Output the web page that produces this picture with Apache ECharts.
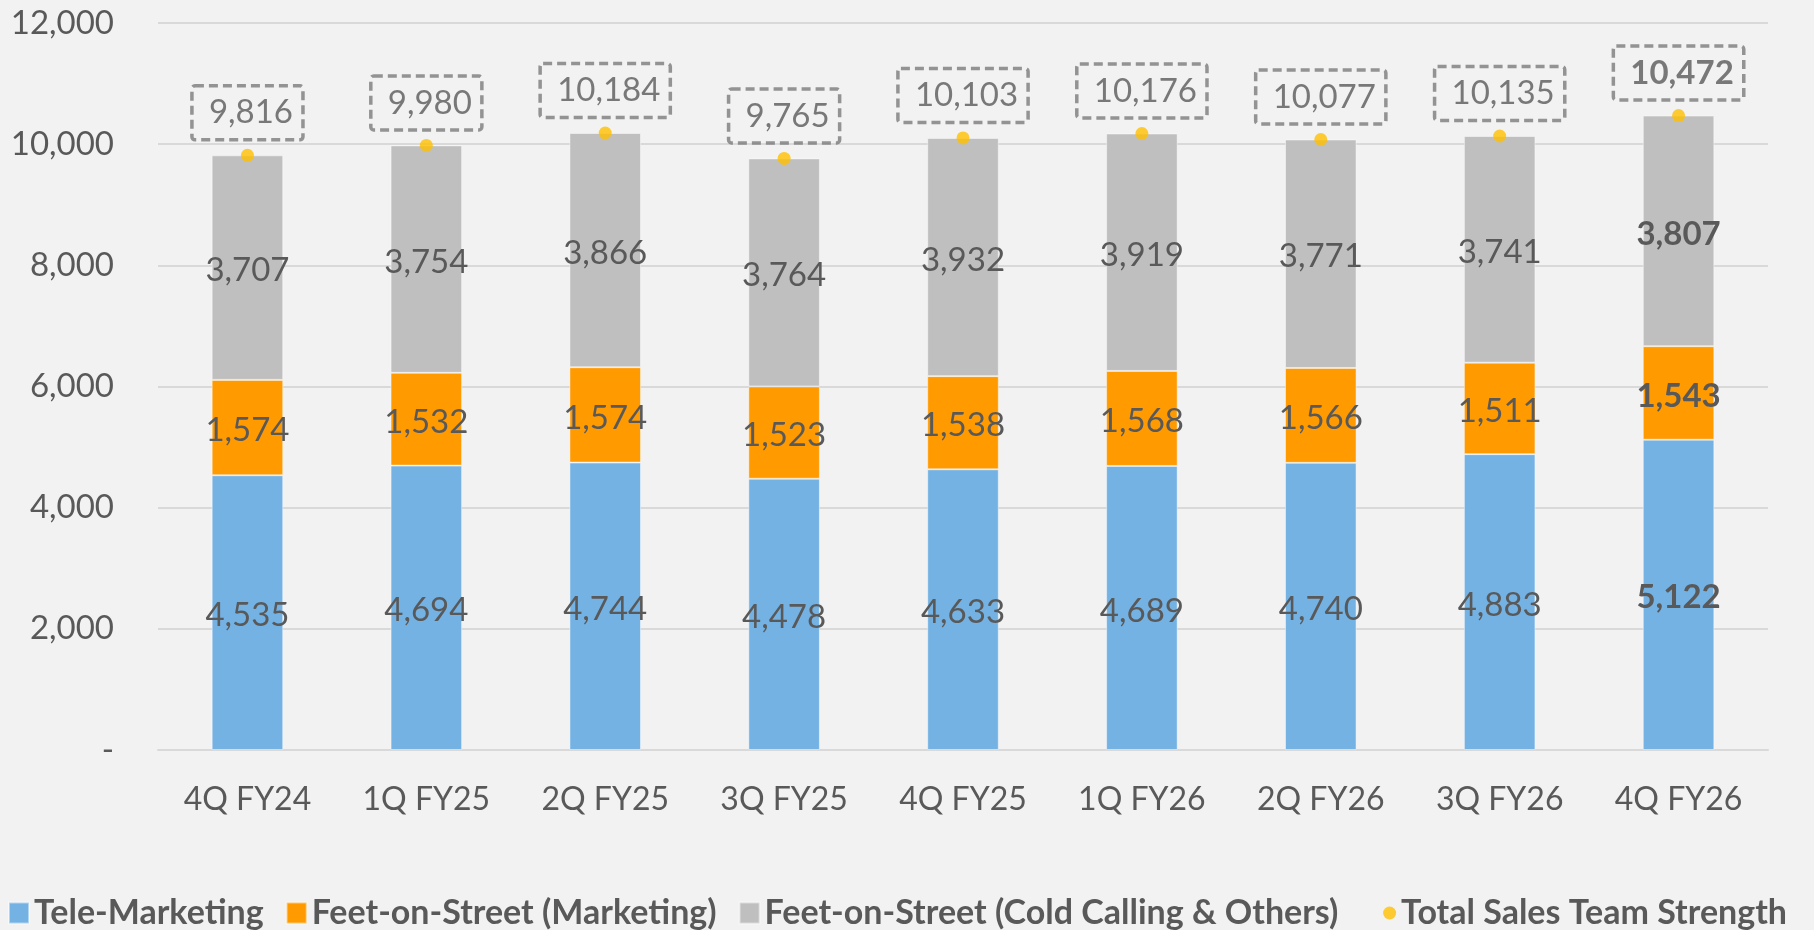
<!DOCTYPE html>
<html>
<head>
<meta charset="utf-8">
<title>Sales Team Strength</title>
<script src="https://cdn.jsdelivr.net/npm/echarts@6/dist/echarts.min.js"></script>
<style>
  html, body { margin: 0; padding: 0; background: #F2F2F2; }
  #chart { width: 1814px; height: 930px; }
</style>
</head>
<body>
<div id="chart"></div>
<script>
// Quarterly headcount by sales channel
const categories = ['4Q FY24', '1Q FY25', '2Q FY25', '3Q FY25', '4Q FY25', '1Q FY26', '2Q FY26', '3Q FY26', '4Q FY26'];
const teleMarketing = [4535, 4694, 4744, 4478, 4633, 4689, 4740, 4883, 5122];
const fosMarketing = [1574, 1532, 1574, 1523, 1538, 1568, 1566, 1511, 1543];
const fosColdCalling = [3707, 3754, 3866, 3764, 3932, 3919, 3771, 3741, 3807];
const totalStrength = [9816, 9980, 10184, 9765, 10103, 10176, 10077, 10135, 10472];

const seriesNames = [
  'Tele-Marketing',
  'Feet-on-Street (Marketing)',
  'Feet-on-Street (Cold Calling & Others)',
  'Total Sales Team Strength'
];

const FONT = 'Lato';
const TEXT = '#595959';
const fmt = v => v === 0 ? '-' : v.toLocaleString('en-US');
const last = categories.length - 1;

// the latest quarter is highlighted with bold labels
const withBoldLast = arr => arr.map((v, i) =>
  i === last ? { value: v, label: { fontWeight: 'bold' } } : v);

const barLabel = {
  show: true,
  position: 'inside',
  offset: [0, 3],
  color: TEXT,
  fontFamily: FONT,
  fontSize: 33,
  formatter: p => fmt(p.value)
};

function barSeries(name, data, color) {
  return {
    name: name,
    type: 'bar',
    stack: 'team',
    barWidth: '40%',
    data: withBoldLast(data),
    itemStyle: { color: color, borderColor: 'rgba(255,255,255,0.45)', borderWidth: 1 },
    label: barLabel,
    emphasis: { disabled: true }
  };
}

const legendText = { fontFamily: FONT, fontSize: 34, fontWeight: 'bold', color: TEXT, lineHeight: 38 };

const chart = echarts.init(document.getElementById('chart'));
chart.setOption({
  backgroundColor: '#F2F2F2',
  animation: false,
  textStyle: { fontFamily: FONT, color: TEXT },
  grid: { left: 158, right: 46, top: 23, bottom: 180 },
  legend: [
    {
      data: seriesNames.slice(0, 3),
      left: 3,
      top: 889,
      icon: 'rect',
      itemWidth: 20,
      itemHeight: 21,
      itemGap: 22,
      textStyle: legendText
    },
    {
      data: [seriesNames[3]],
      right: 22,
      top: 889,
      icon: 'circle',
      itemWidth: 13,
      itemHeight: 13,
      textStyle: legendText
    }
  ],
  xAxis: {
    type: 'category',
    data: categories,
    axisTick: { show: false },
    axisLine: { lineStyle: { color: '#D9D9D9', width: 2 } },
    axisLabel: { color: TEXT, fontFamily: FONT, fontSize: 32, margin: 34 }
  },
  yAxis: {
    type: 'value',
    min: 0,
    max: 12000,
    interval: 2000,
    axisLine: { show: false },
    axisTick: { show: false },
    splitLine: { lineStyle: { color: '#D9D9D9', width: 2 } },
    axisLabel: { color: TEXT, fontFamily: FONT, fontSize: 33, margin: 44, formatter: fmt }
  },
  series: [
    barSeries(seriesNames[0], teleMarketing, '#74B2E4'),
    barSeries(seriesNames[1], fosMarketing, '#FF9A00'),
    barSeries(seriesNames[2], fosColdCalling, '#BFBFBF'),
    {
      name: seriesNames[3],
      type: 'scatter',
      symbol: 'circle',
      symbolSize: 13,
      z: 5,
      data: withBoldLast(totalStrength),
      itemStyle: { color: '#FFC000' },
      label: {
        show: true,
        position: 'top',
        distance: 9,
        color: TEXT,
        fontFamily: FONT,
        fontSize: 33,
        lineHeight: 36,
        padding: [9, 10, 9, 17],
        borderColor: '#7A7A7A',
        borderWidth: 3.5,
        borderType: [9, 5],
        borderRadius: 3,
        formatter: p => fmt(p.value)
      },
      emphasis: { disabled: true }
    }
  ]
});
</script>
</body>
</html>
